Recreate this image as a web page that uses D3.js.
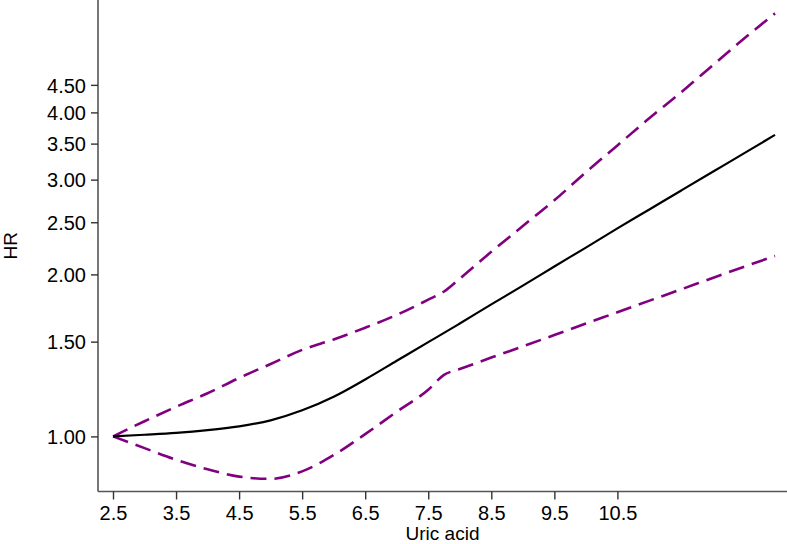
<!DOCTYPE html>
<html>
<head>
<meta charset="utf-8">
<script src="https://cdn.jsdelivr.net/npm/d3@7"></script>
<style>
  html, body { margin: 0; padding: 0; background: #fff; }
  svg { display: block; }
  text { font-family: "Liberation Sans", Arial, Helvetica, sans-serif; fill: #000; }
</style>
</head>
<body>
<svg id="chart" width="787" height="544"></svg>
<script>
// ---- data ----
const uricAcid = [2.5, 3.0, 3.5, 4.0, 4.5, 5.0, 5.5, 6.0, 6.5, 7.0, 7.5, 7.75, 8.0, 8.5, 9.0, 9.5, 10.0, 10.5, 11.0, 11.5, 12.0, 12.5, 13.0];
const hr      = [1.000, 1.007, 1.015, 1.027, 1.044, 1.071, 1.118, 1.185, 1.276, 1.382, 1.497, 1.557, 1.621, 1.759, 1.906, 2.069, 2.243, 2.435, 2.638, 2.858, 3.096, 3.353, 3.633];
const hrUpper = [1.000, 1.067, 1.135, 1.203, 1.284, 1.363, 1.448, 1.514, 1.592, 1.682, 1.795, 1.859, 1.964, 2.203, 2.460, 2.746, 3.096, 3.473, 3.896, 4.349, 4.879, 5.474, 6.110];
const hrLower = [1.000, 0.951, 0.905, 0.869, 0.842, 0.834, 0.861, 0.923, 1.010, 1.111, 1.221, 1.301, 1.334, 1.401, 1.470, 1.543, 1.621, 1.701, 1.786, 1.874, 1.968, 2.065, 2.164];
const xTicks = [2.5, 3.5, 4.5, 5.5, 6.5, 7.5, 8.5, 9.5, 10.5];
const yTicks = [1.00, 1.50, 2.00, 2.50, 3.00, 3.50, 4.00, 4.50];
const xTitle = "Uric acid";
const yTitle = "HR";

// ---- layout ----
const svg = d3.select("#chart");
const pLeft = 98, pRight = 787, pTop = 0, pBottom = 491.5;

const x = d3.scaleLinear().domain([2.262, 13.19]).range([pLeft, pRight]);
const y = d3.scaleLog().domain([0.790, 6.47]).range([pBottom, pTop]);

// axes
const xAxis = d3.axisBottom(x).tickValues(xTicks).tickSize(8).tickPadding(6)
  .tickFormat(d => d3.format(".1f")(d));
const yAxis = d3.axisLeft(y).tickValues(yTicks).tickSize(7).tickPadding(5)
  .tickFormat(d => d3.format(".2f")(d));

const gx = svg.append("g").attr("transform", `translate(0,${pBottom})`).call(xAxis);
const gy = svg.append("g").attr("transform", `translate(${pLeft},0)`).call(yAxis);

[gx, gy].forEach(g => {
  g.select(".domain").attr("stroke", "#555").attr("stroke-width", 1.6);
  g.selectAll(".tick line").attr("stroke", "#333").attr("stroke-width", 1.4);
  g.selectAll(".tick text").attr("font-size", 20)
    .attr("font-family", '"Liberation Sans", Arial, sans-serif').attr("fill", "#000");
});
gx.select(".domain").attr("d", `M${pLeft},0H${pRight}`);
gy.select(".domain").attr("d", `M0,${pBottom}V${pTop}`);
gx.selectAll(".tick text").attr("dy", "0.71em");
gy.selectAll(".tick text").attr("dy", "0.36em");

// titles
svg.append("text").attr("x", (pLeft + pRight) / 2).attr("y", 540)
  .attr("text-anchor", "middle").attr("font-size", 19).text(xTitle);
svg.append("text").attr("transform", `translate(17,${(pTop + pBottom) / 2}) rotate(-90)`)
  .attr("text-anchor", "middle").attr("font-size", 19).text(yTitle);

// lines
const pts = arr => uricAcid.map((u, i) => [u, arr[i]]);
const line = d3.line().x(d => x(d[0])).y(d => y(d[1])).curve(d3.curveMonotoneX);

svg.append("path").datum(pts(hrUpper)).attr("d", line)
  .attr("fill", "none").attr("stroke", "#800080").attr("stroke-width", 2.6)
  .attr("stroke-dasharray", "16,8");
svg.append("path").datum(pts(hrLower)).attr("d", line)
  .attr("fill", "none").attr("stroke", "#800080").attr("stroke-width", 2.6)
  .attr("stroke-dasharray", "16,8");
svg.append("path").datum(pts(hr)).attr("d", line)
  .attr("fill", "none").attr("stroke", "#000").attr("stroke-width", 2.2);
</script>
</body>
</html>
